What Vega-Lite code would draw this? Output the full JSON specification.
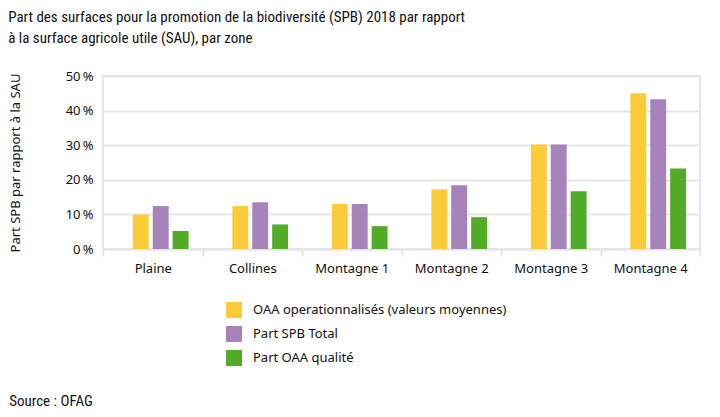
{
  "$schema": "https://vega.github.io/schema/vega-lite/v6.json",
  "background": "white",
  "padding": {"left": 8, "top": 10, "right": 8, "bottom": 4},
  "title": {
    "text": ["Part des surfaces pour la promotion de la biodiversité (SPB) 2018 par rapport", "à la surface agricole utile (SAU), par zone"],
    "anchor": "start",
    "frame": "bounds",
    "font": "Roboto Condensed, Roboto, sans-serif",
    "fontSize": 15,
    "fontWeight": "normal",
    "lineHeight": 21,
    "color": "#111111",
    "offset": 23
  },
  "vconcat": [
    {
      "width": 597,
      "height": 173,
      "title": {
        "text": "Source : OFAG",
        "orient": "bottom",
        "anchor": "start",
        "frame": "bounds",
        "font": "Roboto Condensed, Roboto, sans-serif",
        "fontSize": 15,
        "fontWeight": "normal",
        "color": "#111111",
        "offset": 119
      },
      "data": {
        "values": [
          {"zone": "Plaine", "serie": "OAA operationnalisés (valeurs moyennes)", "value": 10.0},
          {"zone": "Plaine", "serie": "Part SPB Total", "value": 12.4},
          {"zone": "Plaine", "serie": "Part OAA qualité", "value": 5.2},
          {"zone": "Collines", "serie": "OAA operationnalisés (valeurs moyennes)", "value": 12.4},
          {"zone": "Collines", "serie": "Part SPB Total", "value": 13.5},
          {"zone": "Collines", "serie": "Part OAA qualité", "value": 7.1},
          {"zone": "Montagne 1", "serie": "OAA operationnalisés (valeurs moyennes)", "value": 13.0},
          {"zone": "Montagne 1", "serie": "Part SPB Total", "value": 13.0},
          {"zone": "Montagne 1", "serie": "Part OAA qualité", "value": 6.6},
          {"zone": "Montagne 2", "serie": "OAA operationnalisés (valeurs moyennes)", "value": 17.2},
          {"zone": "Montagne 2", "serie": "Part SPB Total", "value": 18.4},
          {"zone": "Montagne 2", "serie": "Part OAA qualité", "value": 9.2},
          {"zone": "Montagne 3", "serie": "OAA operationnalisés (valeurs moyennes)", "value": 30.2},
          {"zone": "Montagne 3", "serie": "Part SPB Total", "value": 30.2},
          {"zone": "Montagne 3", "serie": "Part OAA qualité", "value": 16.7},
          {"zone": "Montagne 4", "serie": "OAA operationnalisés (valeurs moyennes)", "value": 45.0},
          {"zone": "Montagne 4", "serie": "Part SPB Total", "value": 43.3},
          {"zone": "Montagne 4", "serie": "Part OAA qualité", "value": 23.3}
        ]
      },
      "mark": {"type": "bar", "width": {"band": 0.8}},
      "encoding": {
        "x": {
          "field": "zone",
          "type": "nominal",
          "sort": ["Plaine", "Collines", "Montagne 1", "Montagne 2", "Montagne 3", "Montagne 4"],
          "scale": {"paddingInner": 0, "paddingOuter": 0},
          "axis": {
            "title": null,
            "labelAngle": 0,
            "tickBand": "extent",
            "tickSize": 7,
            "tickColor": "#e6e6e6",
            "tickWidth": 2,
            "domainColor": "#e6e6e6",
            "domainWidth": 2,
            "labelPadding": 6,
            "labelFont": "Noto Sans",
            "labelFontSize": 13,
            "labelColor": "#111111"
          }
        },
        "xOffset": {
          "field": "serie",
          "type": "nominal",
          "sort": ["OAA operationnalisés (valeurs moyennes)", "Part SPB Total", "Part OAA qualité"],
          "scale": {"paddingInner": 0, "paddingOuter": 1}
        },
        "y": {
          "field": "value",
          "type": "quantitative",
          "scale": {"domain": [0, 50], "nice": false},
          "axis": {
            "title": "Part SPB par rapport à la SAU",
            "titleFont": "Noto Sans",
            "titleFontSize": 13,
            "titleFontWeight": "normal",
            "titleColor": "#111111",
            "titlePadding": 43,
            "values": [0, 10, 20, 30, 40, 50],
            "labelExpr": "datum.value + '\u2009%'",
            "labelFont": "Noto Sans",
            "labelFontSize": 13,
            "labelColor": "#111111",
            "labelPadding": 10,
            "grid": true,
            "gridColor": "#e6e6e6",
            "gridWidth": 2,
            "domain": false,
            "ticks": false
          }
        },
        "color": {
          "field": "serie",
          "type": "nominal",
          "sort": ["OAA operationnalisés (valeurs moyennes)", "Part SPB Total", "Part OAA qualité"],
          "scale": {
            "domain": ["OAA operationnalisés (valeurs moyennes)", "Part SPB Total", "Part OAA qualité"],
            "range": ["#FBCB3A", "#A882BA", "#52AC27"]
          },
          "legend": {
            "title": null,
            "orient": "none",
            "legendX": 123,
            "legendY": 226,
            "direction": "vertical",
            "symbolType": "square",
            "symbolSize": 256,
            "symbolStrokeWidth": 0,
            "labelFont": "Noto Sans",
            "labelFontSize": 13,
            "labelLimit": 400,
            "labelColor": "#111111",
            "labelOffset": 11,
            "rowPadding": 8
          }
        }
      }
    }
  ],
  "config": {
    "font": "Noto Sans",
    "view": {"stroke": "#e6e6e6", "strokeWidth": 2}
  }
}
